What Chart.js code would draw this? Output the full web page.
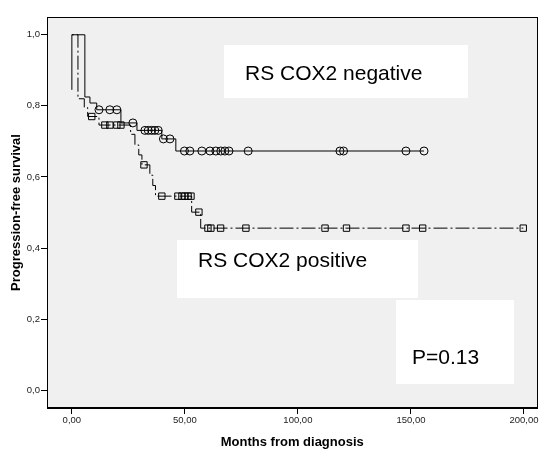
<!DOCTYPE html>
<html>
<head>
<meta charset="utf-8">
<script src="https://cdn.jsdelivr.net/npm/chart.js@4"></script>
<style>
  html, body { margin: 0; padding: 0; background: #fff; }
  #wrap { width: 543px; height: 450px; }
</style>
</head>
<body>
<div id="wrap"><canvas id="myChart" width="543" height="450"></canvas></div>
<script>
// axis ticks
const xTicks = [0, 50, 100, 150, 200];
const yTicks = [0, 0.2, 0.4, 0.6, 0.8, 1.0];

// RS COX2 negative (solid line, circles = censored)
const negTimes = [0, 0, 5.75, 8, 11, 21.7, 28.8, 39.8, 46];
const negSurv = [0.845, 1.0, 0.825, 0.808, 0.789, 0.752, 0.731, 0.707, 0.673];
const negEnd = 155.8;
const negCensored = [12, 16.8, 19.9, 27, 32.3, 33.8, 35.3, 36.7, 38.2, 40.5, 43.4,
  49.8, 52.2, 57.5, 61.1, 63.7, 65.9, 67.7, 69.5, 78, 118.6, 120.2, 147.8, 155.8];

// RS COX2 positive (dash-dot line, squares = censored)
const posTimes = [0, 2.7, 5.5, 7, 12, 26, 27.9, 29.6, 31, 34.5, 35.8, 37, 53, 57];
const posSurv = [1.0, 0.82, 0.795, 0.77, 0.746, 0.72, 0.69, 0.662, 0.634, 0.605, 0.576, 0.546, 0.501, 0.456];
const posEnd = 199.7;
const posCensored = [8.8, 14.6, 16.8, 19.9, 21.7, 31.9, 39.8, 46.9, 48.7, 50, 51.4, 52.7,
  56.2, 60.2, 61.5, 65.8, 77, 112, 121.5, 147.8, 155.2, 199.7];

// build step points and censor marks from the arrays above
function stepPoints(times, surv, end) {
    const pts = times.map((t, i) => ({x: t, y: surv[i]}));
    pts.push({x: end, y: surv[surv.length - 1]});
    return pts;
}
function survAt(times, surv, t) {
    let s = surv[0];
    for (let i = 0; i < times.length; i++) {
        if (times[i] <= t) s = surv[i];
    }
    return s;
}
function censorPoints(times, surv, cens) {
    return cens.map(t => ({x: t, y: survAt(times, surv, t)}));
}

const FONT = "'Liberation Sans', Arial, sans-serif";

// plot background + frame + text boxes
const framePlugin = {
    id: 'frame',
    beforeDatasetsDraw(chart) {
        const {ctx, chartArea: a} = chart;
        ctx.save();
        ctx.fillStyle = '#f0f0f0';
        ctx.fillRect(a.left, a.top, a.right - a.left, a.bottom - a.top);
        ctx.restore();
    },
    afterDatasetsDraw(chart) {
        const {ctx, chartArea: a} = chart;
        ctx.save();
        //text boxes
        const boxes = [
            {x: 224, y: 45, w: 244, h: 53, text: 'RS COX2 negative', tx: 245, ty: 80},
            {x: 177, y: 240, w: 241, h: 58, text: 'RS COX2 positive', tx: 198, ty: 267},
            {x: 396, y: 300, w: 118, h: 84, text: 'P=0.13', tx: 412, ty: 364}
        ];
        ctx.font = '21px ' + FONT;
        ctx.textBaseline = 'alphabetic';
        boxes.forEach(b => {
            ctx.fillStyle = '#ffffff';
            ctx.fillRect(b.x, b.y, b.w, b.h);
            ctx.fillStyle = '#000000';
            ctx.fillText(b.text, b.tx, b.ty);
        });
        ctx.strokeStyle = '#000000';
        ctx.lineWidth = 1;
        ctx.strokeRect(Math.round(a.left) + 0.5, Math.round(a.top) + 0.5,
            Math.round(a.right - a.left) - 1, Math.round(a.bottom - a.top) - 1);
        ctx.restore();
    }
};

const ctx = document.getElementById('myChart').getContext('2d');
const myChart = new Chart(ctx, {
    type: 'scatter',
    data: {
        datasets: [
            {
                label: 'RS COX2 negative',
                data: stepPoints(negTimes, negSurv, negEnd),
                showLine: true,
                stepped: 'before',
                borderColor: '#000',
                borderWidth: 1,
                pointRadius: 0
            },
            {
                label: 'RS COX2 positive',
                data: stepPoints(posTimes, posSurv, posEnd),
                showLine: true,
                stepped: 'before',
                borderColor: '#000',
                borderWidth: 1,
                borderDash: [2, 3, 14, 3],
                pointRadius: 0
            },
            {
                label: 'negative censored',
                data: censorPoints(negTimes, negSurv, negCensored),
                pointStyle: 'circle',
                pointRadius: 4,
                borderColor: '#000',
                borderWidth: 1,
                backgroundColor: 'rgba(0,0,0,0)'
            },
            {
                label: 'positive censored',
                data: censorPoints(posTimes, posSurv, posCensored),
                pointStyle: 'rect',
                pointRadius: 4.5,
                borderColor: '#000',
                borderWidth: 1,
                backgroundColor: 'rgba(0,0,0,0)'
            }
        ]
    },
    options: {
        responsive: false,
        animation: false,
        layout: { padding: { top: 17, right: 0, left: 0, bottom: 0 } },
        plugins: { legend: { display: false }, tooltip: { enabled: false } },
        scales: {
            x: {
                type: 'linear',
                min: -11,
                max: 206,
                afterBuildTicks: s => { s.ticks = xTicks.map(v => ({value: v})); },
                afterFit: s => { s.height = 42; s.paddingLeft = 0; s.paddingRight = 0; },
                ticks: {
                    autoSkip: false,
                    maxRotation: 0,
                    padding: 1,
                    color: '#222',
                    font: { family: FONT, size: 9.5 },
                    callback: v => v.toFixed(2).replace('.', ',')
                },
                grid: { drawOnChartArea: false, drawTicks: true, tickLength: 6, color: '#000' },
                border: { display: true, color: '#000' },
                title: {
                    display: true,
                    text: 'Months from diagnosis',
                    color: '#000',
                    font: { family: FONT, size: 13, weight: 'bold' },
                    padding: { top: 0, bottom: 0 }
                }
            },
            y: {
                type: 'linear',
                min: -0.05,
                max: 1.05,
                afterBuildTicks: s => { s.ticks = yTicks.map(v => ({value: v})); },
                afterFit: s => { s.width = 47; s.paddingTop = 0; s.paddingBottom = 0; },
                ticks: {
                    autoSkip: false,
                    padding: 1,
                    color: '#222',
                    font: { family: FONT, size: 9.5 },
                    callback: v => v.toFixed(1).replace('.', ',')
                },
                grid: { drawOnChartArea: false, drawTicks: true, tickLength: 6, color: '#000' },
                border: { display: true, color: '#000' },
                title: {
                    display: true,
                    text: 'Progression-free survival',
                    color: '#000',
                    font: { family: FONT, size: 13, weight: 'bold' },
                    padding: { top: 9, bottom: 0 }
                }
            }
        }
    },
    plugins: [framePlugin]
});
</script>
</body>
</html>
